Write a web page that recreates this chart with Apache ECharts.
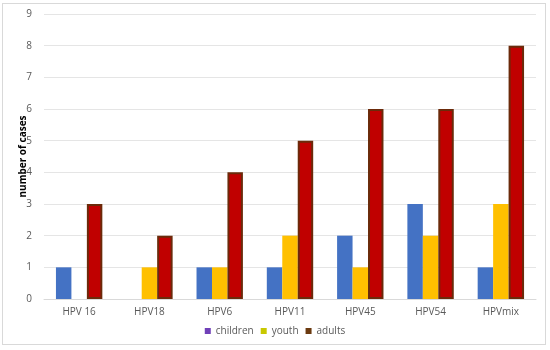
<!DOCTYPE html>
<html><head><meta charset="utf-8">
<script src="https://cdn.jsdelivr.net/npm/echarts@6/dist/echarts.min.js"></script>
<style>html,body{margin:0;padding:0;background:#fff}#c{width:550px;height:350px}
#frame{position:absolute;left:2px;top:3px;width:544px;height:342px;border:1px solid #d9d9d9;box-sizing:border-box;pointer-events:none}</style>
</head><body><div id="c"></div><div id="frame"></div>
<script>
const categories = ['HPV 16','HPV18','HPV6','HPV11','HPV45','HPV54','HPVmix'];
const children = [1, 0, 1, 1, 2, 3, 1];
const youth = [0, 1, 1, 2, 1, 2, 3];
const adults = [3, 2, 4, 5, 6, 6, 8];
const yTicks = [0,1,2,3,4,5,6,7,8,9];

const chart = echarts.init(document.getElementById('c'));
const ff = 'Open Sans, Liberation Sans, sans-serif';
const lbl = {color:'#595959', fontSize:10, fontFamily:ff};
chart.setOption({
  animation:false,
  grid:{left:44, right:14, top:14, bottom:51},
  legend:{bottom:9, left:'center', itemWidth:6, itemHeight:6, itemGap:7, icon:'rect',
    textStyle:{color:'#595959', fontSize:10, fontFamily:ff},
    data:[{name:'children', itemStyle:{color:'#7040B8'}},
          {name:'youth', itemStyle:{color:'#C8C800'}},
          {name:'adults', itemStyle:{color:'#6B3A10', borderWidth:0}}]},
  xAxis:{type:'category', data:categories,
    axisLine:{lineStyle:{color:'#d9d9d9'}}, axisTick:{show:false},
    axisLabel:Object.assign({margin:8}, lbl)},
  yAxis:{type:'value', min:yTicks[0], max:yTicks[yTicks.length-1], interval:1,
    name:'number of cases', nameLocation:'middle', nameGap:16, nameMoveOverlap:false,
    nameTextStyle:{fontWeight:'bold', fontSize:10, color:'#000', fontFamily:ff},
    axisLine:{show:false}, axisTick:{show:false},
    splitLine:{lineStyle:{color:'#e5e5e5'}},
    axisLabel:Object.assign({margin:12}, lbl)},
  series:[
    {name:'children', type:'bar', data:children, barGap:'0%', barCategoryGap:'34%',
     itemStyle:{color:'#4472C4'}},
    {name:'youth', type:'bar', data:youth, itemStyle:{color:'#FFC000'}},
    {name:'adults', type:'bar', data:adults, itemStyle:{color:'#C00000', borderColor:'#6B2A0A', borderWidth:2}}
  ]
});
</script></body></html>
